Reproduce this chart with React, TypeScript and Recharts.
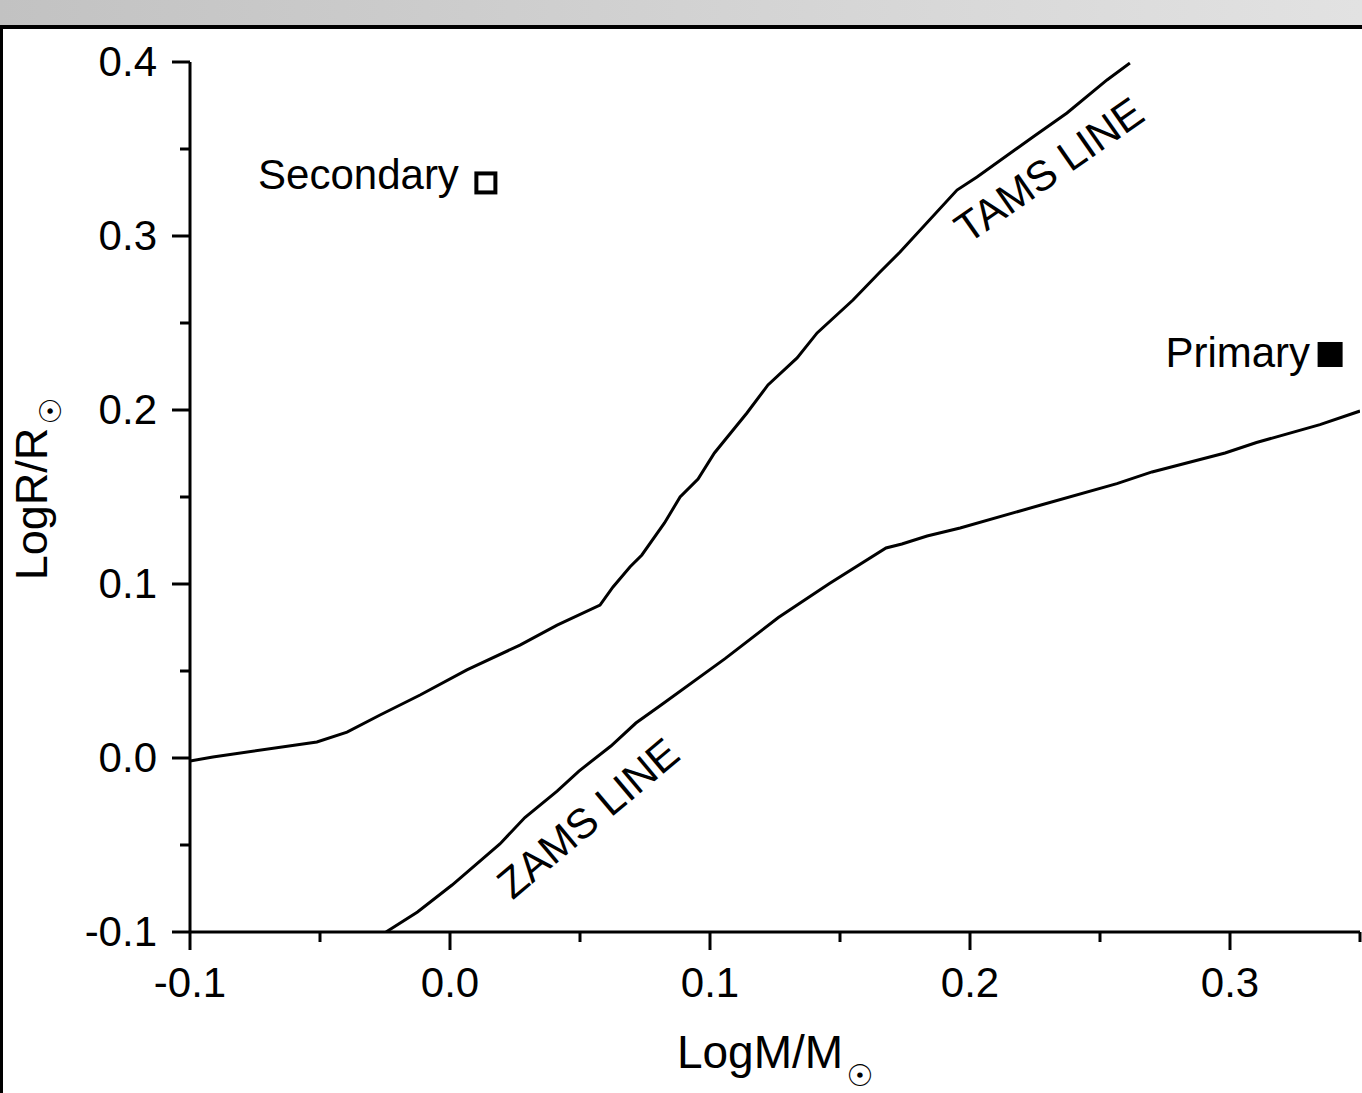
import {
  ComposedChart,
  Line,
  Scatter,
  XAxis,
  YAxis,
  ReferenceDot,
} from "recharts";

// Axis ticks
const xMajorTicks = [-0.1, 0.0, 0.1, 0.2, 0.3];
const xMinorTicks = [-0.05, 0.05, 0.15, 0.25, 0.35];
const yMajorTicks = [-0.1, 0.0, 0.1, 0.2, 0.3, 0.4];
const yMinorTicks = [-0.05, 0.05, 0.15, 0.25, 0.35];

// TAMS line (LogM, LogR)
const tamsX = [
  -0.1, -0.0912, -0.0512, -0.0396, -0.0269, -0.0115, 0.0065, 0.0269, 0.0412, 0.0577,
  0.0627, 0.0692, 0.0738, 0.0825, 0.0885, 0.0954, 0.1017, 0.1142, 0.1223, 0.1335,
  0.1412, 0.155, 0.1654, 0.1731, 0.195, 0.2027, 0.2242, 0.2373, 0.2527, 0.2615,
];
const tamsY = [
  -0.0017, 0.0006, 0.0092, 0.0149, 0.0247, 0.0362, 0.0506, 0.0649, 0.0764, 0.0879,
  0.0983, 0.1098, 0.1167, 0.1351, 0.15, 0.1603, 0.1753, 0.1983, 0.2144, 0.2299,
  0.2443, 0.2632, 0.2793, 0.2908, 0.3264, 0.3339, 0.3569, 0.3707, 0.3897, 0.3994,
];

// ZAMS line (LogM, LogR)
const zamsX = [
  -0.0246, -0.0125, 0.0008, 0.0192, 0.0288, 0.0412, 0.0496, 0.0619, 0.0715, 0.0812,
  0.1058, 0.1263, 0.1458, 0.1677, 0.1738, 0.1835, 0.1962, 0.2273, 0.2565, 0.27,
  0.2981, 0.3102, 0.3346, 0.35,
];
const zamsY = [
  -0.1, -0.0885, -0.073, -0.0494, -0.0342, -0.019, -0.0075, 0.0069, 0.0201, 0.0305,
  0.0571, 0.0807, 0.1002, 0.1207, 0.123, 0.1276, 0.1322, 0.1454, 0.1577, 0.1644,
  0.1753, 0.1813, 0.1916, 0.1994,
];

// Binary components
const starNames = ["Secondary", "Primary"];
const starLogM = [0.0138, 0.3385];
const starLogR = [0.3305, 0.2319];

const tamsData = tamsX.map((x, i) => ({ x, y: tamsY[i] }));
const zamsData = zamsX.map((x, i) => ({ x, y: zamsY[i] }));
const starData = starNames.map((name, i) => ({ x: starLogM[i], y: starLogR[i], name }));

const FONT = "'Liberation Sans', Arial, sans-serif";

const near = (list: number[], v: number) => list.some((t) => Math.abs(t - v) < 1e-6);

const XTick = (props: any) => {
  const { x, y, payload } = props;
  const major = near(xMajorTicks, payload.value);
  return (
    <g>
      <line x1={x} y1={y} x2={x} y2={y + (major ? 18 : 10)} stroke="#000" strokeWidth={3} />
      {major && (
        <text x={x} y={y + 65} textAnchor="middle" fontSize={42} fontFamily={FONT} fill="#000">
          {payload.value.toFixed(1)}
        </text>
      )}
    </g>
  );
};

const YTick = (props: any) => {
  const { x, y, payload } = props;
  const major = near(yMajorTicks, payload.value);
  return (
    <g>
      <line x1={x} y1={y} x2={x - (major ? 18 : 10)} y2={y} stroke="#000" strokeWidth={3} />
      {major && (
        <text x={x - 33} y={y + 14} textAnchor="end" fontSize={42} fontFamily={FONT} fill="#000">
          {payload.value.toFixed(1)}
        </text>
      )}
    </g>
  );
};

const XLabel = (props: any) => {
  const { x, y, width } = props.viewBox;
  return (
    <text x={x + width / 2} y={y + 136} textAnchor="middle" fontSize={46} fontFamily={FONT} fill="#000">
      LogM/M
      <tspan dx={3} dy={18} fontSize={30} fontFamily="'DejaVu Sans'">☉</tspan>
    </text>
  );
};

const YLabel = (props: any) => {
  const { x, y, height } = props.viewBox;
  const cx = x - 43;
  const cy = y + height / 2 - 8;
  return (
    <text
      x={cx}
      y={cy}
      transform={`rotate(-90, ${cx}, ${cy})`}
      textAnchor="middle"
      fontSize={45}
      fontFamily={FONT}
      fill="#000"
    >
      LogR/R
      <tspan dx={3} dy={14} fontSize={30} fontFamily="'DejaVu Sans'">☉</tspan>
    </text>
  );
};

const StarShape = (props: any) => {
  const { cx, cy, payload } = props;
  const primary = payload.name === "Primary";
  const s = primary ? 25 : 19;
  return (
    <g>
      {primary ? (
        <rect x={cx - s / 2} y={cy - s / 2} width={s} height={s} fill="#000" />
      ) : (
        <rect x={cx - s / 2} y={cy - s / 2} width={s} height={s} fill="#fff" stroke="#000" strokeWidth={4} />
      )}
      <text
        x={cx - (primary ? 20 : 27)}
        y={cy + (primary ? 13 : 6)}
        textAnchor="end"
        fontSize={42}
        fontFamily={FONT}
        fill="#000"
      >
        {payload.name}
      </text>
    </g>
  );
};

const lineLabel = (text: string, angle: number) => (props: any) => {
  const { cx, cy } = props;
  return (
    <text
      x={cx}
      y={cy}
      transform={`rotate(${angle}, ${cx}, ${cy})`}
      textAnchor="middle"
      dominantBaseline="central"
      fontSize={42}
      fontFamily={FONT}
      fill="#000"
    >
      {text}
    </text>
  );
};

export default function App() {
  return (
    <div style={{ position: "absolute", left: 0, top: 0, width: 1362, height: 1093, background: "#fff", overflow: "hidden" }}>
      <div
        style={{
          position: "absolute",
          left: 0,
          top: 0,
          width: 1362,
          height: 25,
          background: "linear-gradient(to right, #c2c2c2, #e2e2e2)",
        }}
      />
      <div style={{ position: "absolute", left: 0, top: 25, width: 1362, height: 4, background: "#000" }} />
      <div style={{ position: "absolute", left: 0, top: 25, width: 3, height: 1068, background: "#000" }} />
      <div style={{ position: "absolute", left: 0, top: 0 }}>
        <ComposedChart width={1362} height={1093} margin={{ top: 62, right: 2, bottom: 101, left: 90 }}>
          <XAxis
            type="number"
            dataKey="x"
            domain={[-0.1, 0.35]}
            ticks={[...xMajorTicks, ...xMinorTicks].sort((a, b) => a - b)}
            allowDataOverflow
            height={60}
            tickSize={0}
            tickMargin={0}
            tickLine={false}
            axisLine={{ stroke: "#000", strokeWidth: 3 }}
            tick={<XTick />}
            interval={0}
            label={<XLabel />}
          />
          <YAxis
            type="number"
            dataKey="y"
            domain={[-0.1, 0.4]}
            ticks={[...yMajorTicks, ...yMinorTicks].sort((a, b) => a - b)}
            allowDataOverflow
            width={100}
            tickSize={0}
            tickMargin={0}
            tickLine={false}
            axisLine={{ stroke: "#000", strokeWidth: 3 }}
            tick={<YTick />}
            interval={0}
            label={<YLabel />}
          />
          <Line
            data={tamsData}
            dataKey="y"
            type="linear"
            stroke="#000"
            strokeWidth={3}
            dot={false}
            isAnimationActive={false}
          />
          <Line
            data={zamsData}
            dataKey="y"
            type="linear"
            stroke="#000"
            strokeWidth={3}
            dot={false}
            isAnimationActive={false}
          />
          <Scatter data={starData} dataKey="y" shape={<StarShape />} isAnimationActive={false} />
          <ReferenceDot x={0.2304} y={0.3379} r={0} shape={lineLabel("TAMS LINE", -35)} />
          <ReferenceDot x={0.0531} y={-0.0345} r={0} shape={lineLabel("ZAMS LINE", -40)} />
        </ComposedChart>
      </div>
    </div>
  );
}
